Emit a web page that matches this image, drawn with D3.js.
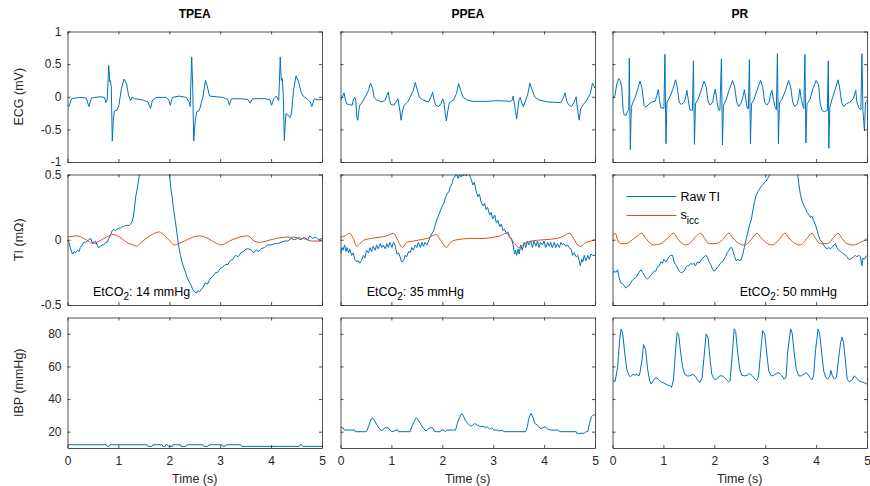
<!DOCTYPE html>
<html>
<head>
<meta charset="utf-8">
<script src="https://cdn.jsdelivr.net/npm/d3@7"></script>
<style>
  body { margin: 0; background: #fff; }
  svg { font-family: "Liberation Sans", Arial, sans-serif; }
</style>
</head>
<body>
<script>
// column titles, tick values, EtCO2 values
var columns = ["TPEA", "PPEA", "PR"];
var etco2 = [14, 35, 50];
var timeTicks = [0, 1, 2, 3, 4, 5];
var ecgTicks = [-1, -0.5, 0, 0.5, 1];
var tiTicks = [-0.5, 0, 0.5];
var ibpTicks = [20, 40, 60, 80];

// ECG (mV), [time s, value]
var tpeaEcg = [[0,-0.13],[0.03,-0.15],[0.08,-0.03],[0.24,-0.01],[0.37,-0.02],[0.42,-0.15],[0.47,-0.02],[0.63,0],[0.73,-0.01],[0.75,-0.09],[0.78,-0.05],[0.81,0.48],[0.83,0.23],[0.84,0.25],[0.86,0.15],[0.88,-0.68],[0.90,-0.36],[0.92,-0.22],[0.97,-0.21],[1.01,-0.13],[1.06,0.13],[1.11,0.27],[1.16,0.20],[1.20,0.02],[1.24,-0.06],[1.27,-0.01],[1.32,-0.03],[1.48,-0.05],[1.58,-0.08],[1.63,-0.18],[1.67,-0.05],[1.75,-0.01],[1.94,-0.01],[1.99,-0.05],[2.02,-0.13],[2.06,-0.01],[2.20,0.01],[2.33,-0.01],[2.39,-0.08],[2.41,-0.15],[2.44,0.61],[2.46,0.15],[2.48,-0.68],[2.51,-0.36],[2.54,-0.23],[2.59,-0.21],[2.66,0],[2.71,0.25],[2.75,0.15],[2.79,0.01],[2.92,0],[3.05,-0.01],[3.15,-0.04],[3.18,-0.13],[3.22,-0.03],[3.38,-0.03],[3.54,-0.04],[3.59,-0.10],[3.63,-0.03],[3.90,-0.03],[3.98,-0.05],[4.01,-0.13],[4.05,-0.03],[4.10,0.01],[4.15,-0.06],[4.18,0.61],[4.20,0.25],[4.22,0.28],[4.24,0],[4.26,-0.67],[4.29,-0.26],[4.33,-0.28],[4.37,-0.32],[4.40,-0.26],[4.44,0.10],[4.49,0.32],[4.54,0.23],[4.59,0.07],[4.63,0.01],[4.72,-0.04],[4.77,-0.08],[4.80,-0.15],[4.85,-0.03],[4.92,-0.05],[5.00,-0.04]];
var ppeaEcg = [[0,-0.05],[0.04,0],[0.07,0.06],[0.09,-0.03],[0.12,-0.11],[0.18,-0.12],[0.23,-0.13],[0.25,-0.05],[0.28,-0.01],[0.30,-0.05],[0.32,-0.31],[0.34,-0.36],[0.36,-0.21],[0.38,-0.13],[0.43,-0.08],[0.50,0.02],[0.55,0.10],[0.59,0.21],[0.63,0.13],[0.66,-0.01],[0.71,-0.05],[0.81,-0.08],[0.88,-0.05],[0.91,0.02],[0.94,0.07],[0.96,-0.04],[0.99,-0.12],[1.05,-0.13],[1.09,-0.08],[1.13,-0.03],[1.14,-0.08],[1.17,-0.23],[1.19,-0.36],[1.22,-0.21],[1.25,-0.13],[1.32,-0.08],[1.38,0.01],[1.43,0.10],[1.47,0.22],[1.51,0.10],[1.55,-0.01],[1.62,-0.05],[1.73,-0.08],[1.78,0],[1.81,0.07],[1.84,-0.05],[1.87,-0.13],[1.93,-0.15],[1.97,-0.11],[2.01,-0.03],[2.03,-0.08],[2.06,-0.26],[2.08,-0.37],[2.11,-0.21],[2.14,-0.09],[2.22,-0.05],[2.28,0.05],[2.32,0.20],[2.36,0.10],[2.41,-0.01],[2.49,-0.05],[2.59,-0.07],[2.88,-0.07],[3.08,-0.06],[3.34,-0.07],[3.38,-0.05],[3.39,0.01],[3.41,-0.08],[3.44,-0.23],[3.46,-0.34],[3.49,-0.16],[3.51,-0.03],[3.53,-0.01],[3.56,-0.09],[3.59,-0.15],[3.64,-0.05],[3.68,0.04],[3.72,0.21],[3.76,0.11],[3.82,-0.01],[3.90,-0.05],[4.07,-0.08],[4.33,-0.09],[4.38,-0.01],[4.41,0.06],[4.45,-0.08],[4.49,-0.13],[4.54,-0.15],[4.59,-0.08],[4.63,0],[4.64,-0.08],[4.67,-0.26],[4.69,-0.36],[4.72,-0.18],[4.76,-0.13],[4.84,-0.05],[4.91,0.05],[4.95,0.21],[5.00,0.13]];
var prEcg = [[0,-0.04],[0.05,0.02],[0.08,0.18],[0.12,0.28],[0.15,0.25],[0.18,0.15],[0.21,-0.21],[0.23,-0.28],[0.27,-0.28],[0.29,-0.23],[0.32,-0.21],[0.33,0.59],[0.35,-0.81],[0.37,-0.16],[0.41,-0.07],[0.44,-0.02],[0.49,0.10],[0.54,0.24],[0.58,0.13],[0.62,-0.13],[0.65,-0.16],[0.72,-0.11],[0.78,-0.08],[0.84,-0.07],[0.87,0.02],[0.90,0.11],[0.92,-0.03],[0.95,-0.17],[0.99,-0.17],[1.01,-0.18],[1.03,0.65],[1.05,-0.72],[1.07,-0.08],[1.11,-0.03],[1.18,0.10],[1.24,0.26],[1.27,0.15],[1.31,-0.08],[1.35,-0.12],[1.41,-0.08],[1.44,0],[1.46,0.10],[1.49,-0.05],[1.52,-0.20],[1.57,-0.21],[1.59,0.55],[1.61,-0.73],[1.63,-0.11],[1.68,-0.04],[1.73,0.07],[1.80,0.24],[1.84,0.15],[1.88,-0.08],[1.92,-0.13],[1.97,-0.08],[1.99,0.02],[2.02,0.12],[2.05,-0.05],[2.08,-0.20],[2.11,-0.21],[2.14,0.58],[2.16,-0.74],[2.18,-0.13],[2.23,-0.05],[2.29,0.10],[2.36,0.25],[2.40,0.15],[2.44,-0.08],[2.48,-0.15],[2.53,-0.09],[2.57,0.02],[2.59,0.11],[2.62,-0.04],[2.65,-0.18],[2.67,-0.18],[2.69,0.57],[2.71,-0.72],[2.73,-0.11],[2.78,-0.04],[2.84,0.10],[2.91,0.25],[2.95,0.15],[2.99,-0.08],[3.03,-0.13],[3.08,-0.08],[3.10,0.02],[3.13,0.10],[3.16,-0.04],[3.20,-0.17],[3.22,-0.20],[3.24,0.66],[3.26,-0.72],[3.28,-0.09],[3.33,-0.04],[3.40,0.10],[3.46,0.25],[3.50,0.15],[3.54,-0.08],[3.58,-0.15],[3.63,-0.11],[3.66,0],[3.68,0.12],[3.71,-0.04],[3.75,-0.17],[3.76,-0.18],[3.78,0.65],[3.80,-0.71],[3.82,-0.11],[3.88,-0.04],[3.94,0.13],[4.00,0.25],[4.05,0.18],[4.08,-0.11],[4.12,-0.21],[4.16,-0.23],[4.22,-0.21],[4.24,0.55],[4.25,-0.79],[4.27,-0.16],[4.31,-0.05],[4.37,0.10],[4.43,0.26],[4.46,0.15],[4.50,-0.08],[4.54,-0.15],[4.59,-0.11],[4.67,-0.08],[4.73,-0.03],[4.78,0.10],[4.80,-0.08],[4.84,-0.17],[4.88,-0.20],[4.90,0.66],[4.92,-0.21],[4.95,-0.52],[4.97,-0.08],[5.00,-0.06]];

// TI (mOhm): raw TI and s_icc
var tpeaTi = [[0,0],[0.03,-0.02],[0.06,-0.07],[0.10,-0.11],[0.13,-0.09],[0.16,-0.10],[0.20,-0.08],[0.23,-0.09],[0.25,-0.06],[0.29,-0.04],[0.32,-0.02],[0.35,-0.02],[0.39,-0.01],[0.42,0],[0.46,0.01],[0.48,-0.02],[0.52,-0.02],[0.55,-0.01],[0.58,-0.04],[0.61,-0.06],[0.65,-0.05],[0.68,-0.04],[0.71,-0.04],[0.75,-0.02],[0.78,-0.02],[0.81,0.01],[0.84,0.03],[0.88,0.07],[0.91,0.08],[0.94,0.07],[0.97,0.08],[1.01,0.09],[1.04,0.09],[1.07,0.10],[1.10,0.10],[1.14,0.11],[1.17,0.11],[1.21,0.11],[1.24,0.12],[1.27,0.14],[1.30,0.19],[1.32,0.26],[1.34,0.33],[1.37,0.39],[1.39,0.44],[1.42,0.52],[1.47,0.65],[1.94,0.65],[2.01,0.48],[2.03,0.39],[2.06,0.32],[2.08,0.24],[2.12,0.14],[2.15,0.05],[2.18,-0.04],[2.22,-0.12],[2.25,-0.17],[2.28,-0.21],[2.32,-0.25],[2.35,-0.29],[2.40,-0.33],[2.43,-0.35],[2.46,-0.38],[2.50,-0.40],[2.53,-0.41],[2.56,-0.39],[2.59,-0.40],[2.63,-0.38],[2.67,-0.36],[2.71,-0.33],[2.75,-0.34],[2.80,-0.30],[2.86,-0.28],[2.91,-0.25],[2.95,-0.25],[3.00,-0.22],[3.05,-0.21],[3.10,-0.19],[3.15,-0.19],[3.20,-0.16],[3.25,-0.15],[3.30,-0.12],[3.35,-0.13],[3.41,-0.10],[3.46,-0.09],[3.51,-0.07],[3.56,-0.07],[3.61,-0.08],[3.65,-0.10],[3.71,-0.08],[3.76,-0.09],[3.80,-0.07],[3.87,-0.06],[3.93,-0.04],[4.00,-0.04],[4.07,-0.03],[4.13,-0.03],[4.20,-0.02],[4.26,-0.01],[4.33,-0.01],[4.39,0.01],[4.46,0],[4.52,0.01],[4.59,0],[4.65,0.02],[4.72,0],[4.76,0.03],[4.82,0.01],[4.88,0.02],[4.93,0],[5.00,0.01]];
var tpeaSicc = [[0,0.02],[0.18,0.03],[0.27,0.02],[0.41,-0.01],[0.50,-0.03],[0.63,-0.01],[0.76,0.02],[0.90,0.04],[1.03,0.02],[1.16,-0.02],[1.29,-0.04],[1.35,-0.05],[1.45,-0.02],[1.58,0.02],[1.71,0.05],[1.80,0.06],[1.91,0.03],[2.01,-0.01],[2.10,-0.04],[2.18,-0.03],[2.30,-0.01],[2.46,0.02],[2.59,0.03],[2.76,0.01],[2.89,-0.02],[3.02,-0.04],[3.18,-0.01],[3.38,0.02],[3.54,0.03],[3.67,-0.01],[3.77,-0.02],[3.90,-0.01],[4.10,0.01],[4.29,0.02],[4.42,0.02],[4.62,0.01],[4.82,-0.01],[5.00,-0.01]];
var ppeaTi = [[0,-0.11],[0.03,-0.06],[0.05,-0.08],[0.08,-0.04],[0.11,-0.09],[0.13,-0.06],[0.16,-0.10],[0.18,-0.07],[0.22,-0.12],[0.25,-0.10],[0.28,-0.15],[0.32,-0.17],[0.35,-0.16],[0.38,-0.18],[0.41,-0.16],[0.45,-0.12],[0.48,-0.14],[0.51,-0.08],[0.55,-0.10],[0.58,-0.06],[0.61,-0.09],[0.64,-0.05],[0.68,-0.08],[0.71,-0.04],[0.74,-0.07],[0.78,-0.03],[0.81,-0.06],[0.84,-0.04],[0.88,-0.07],[0.91,-0.03],[0.94,-0.06],[0.97,-0.02],[1.01,-0.06],[1.04,-0.02],[1.07,-0.04],[1.11,-0.11],[1.14,-0.10],[1.17,-0.13],[1.20,-0.17],[1.24,-0.16],[1.27,-0.12],[1.30,-0.13],[1.34,-0.09],[1.37,-0.10],[1.40,-0.06],[1.43,-0.08],[1.47,-0.04],[1.50,-0.06],[1.53,-0.02],[1.57,-0.06],[1.60,-0.02],[1.63,-0.05],[1.66,-0.02],[1.70,-0.04],[1.73,-0.01],[1.76,0.02],[1.80,0.05],[1.83,0.07],[1.86,0.11],[1.89,0.15],[1.93,0.19],[1.96,0.22],[1.99,0.25],[2.03,0.28],[2.06,0.32],[2.09,0.35],[2.13,0.37],[2.16,0.41],[2.19,0.43],[2.22,0.47],[2.26,0.49],[2.28,0.51],[2.31,0.47],[2.34,0.50],[2.37,0.48],[2.40,0.51],[2.42,0.49],[2.45,0.52],[2.47,0.49],[2.50,0.52],[2.53,0.50],[2.57,0.46],[2.60,0.42],[2.63,0.44],[2.66,0.38],[2.70,0.33],[2.73,0.35],[2.76,0.29],[2.80,0.26],[2.83,0.28],[2.86,0.23],[2.89,0.25],[2.93,0.19],[2.96,0.21],[2.99,0.16],[3.03,0.19],[3.06,0.13],[3.09,0.15],[3.13,0.10],[3.16,0.12],[3.19,0.07],[3.22,0.08],[3.26,0.05],[3.29,0.06],[3.32,0.02],[3.36,0.01],[3.39,-0.04],[3.42,-0.11],[3.44,-0.08],[3.46,-0.12],[3.49,-0.07],[3.51,-0.11],[3.54,-0.04],[3.57,-0.08],[3.61,-0.02],[3.64,-0.06],[3.67,-0.01],[3.70,-0.04],[3.74,-0.01],[3.77,-0.06],[3.80,-0.01],[3.84,-0.05],[3.87,-0.01],[3.90,-0.06],[3.93,-0.02],[3.97,-0.04],[4.00,-0.01],[4.03,-0.06],[4.07,-0.02],[4.10,-0.05],[4.13,-0.02],[4.16,-0.06],[4.20,-0.02],[4.23,-0.06],[4.26,-0.03],[4.30,-0.06],[4.33,-0.02],[4.36,-0.04],[4.39,-0.03],[4.43,-0.05],[4.46,-0.04],[4.49,-0.06],[4.53,-0.07],[4.56,-0.12],[4.59,-0.10],[4.63,-0.13],[4.66,-0.12],[4.69,-0.16],[4.71,-0.20],[4.74,-0.15],[4.76,-0.17],[4.79,-0.12],[4.82,-0.16],[4.86,-0.12],[4.89,-0.15],[4.92,-0.11],[4.95,-0.12],[5.00,-0.12]];
var ppeaSicc = [[0,0.02],[0.09,0.03],[0.18,0.05],[0.25,0.01],[0.32,-0.05],[0.38,-0.03],[0.48,0],[0.61,0.01],[0.78,0.02],[0.91,0.03],[1.04,0.05],[1.11,0.01],[1.17,-0.04],[1.22,-0.06],[1.30,-0.02],[1.43,-0.01],[1.57,0],[1.70,0.01],[1.80,0.03],[1.88,0.04],[1.96,0],[2.03,-0.04],[2.08,-0.06],[2.16,-0.02],[2.29,0],[2.55,0.01],[2.82,0.01],[3.01,0.02],[3.14,0.03],[3.26,0.05],[3.34,0.01],[3.44,-0.04],[3.51,-0.06],[3.61,-0.03],[3.74,-0.01],[4.00,0],[4.26,0.01],[4.39,0.03],[4.49,0.05],[4.58,0.01],[4.66,-0.04],[4.72,-0.05],[4.82,-0.02],[4.92,-0.01],[5.00,0]];
var prTi = [[0,-0.26],[0.03,-0.24],[0.07,-0.25],[0.10,-0.23],[0.13,-0.29],[0.16,-0.33],[0.20,-0.34],[0.23,-0.35],[0.26,-0.37],[0.29,-0.36],[0.33,-0.35],[0.36,-0.33],[0.39,-0.31],[0.42,-0.30],[0.46,-0.29],[0.49,-0.27],[0.52,-0.25],[0.56,-0.23],[0.59,-0.25],[0.62,-0.27],[0.65,-0.29],[0.69,-0.30],[0.72,-0.29],[0.75,-0.27],[0.78,-0.26],[0.82,-0.24],[0.85,-0.24],[0.88,-0.21],[0.92,-0.20],[0.95,-0.17],[0.98,-0.18],[1.01,-0.15],[1.05,-0.17],[1.08,-0.15],[1.11,-0.13],[1.14,-0.12],[1.18,-0.12],[1.21,-0.17],[1.24,-0.19],[1.27,-0.21],[1.31,-0.24],[1.34,-0.25],[1.37,-0.25],[1.41,-0.24],[1.44,-0.21],[1.47,-0.20],[1.50,-0.20],[1.54,-0.18],[1.57,-0.19],[1.60,-0.18],[1.63,-0.20],[1.67,-0.17],[1.70,-0.18],[1.73,-0.16],[1.76,-0.15],[1.80,-0.13],[1.83,-0.12],[1.86,-0.13],[1.90,-0.17],[1.93,-0.19],[1.96,-0.22],[1.99,-0.24],[2.03,-0.23],[2.06,-0.21],[2.09,-0.20],[2.12,-0.18],[2.16,-0.17],[2.19,-0.15],[2.22,-0.13],[2.25,-0.10],[2.29,-0.08],[2.32,-0.06],[2.34,-0.06],[2.37,-0.09],[2.40,-0.13],[2.43,-0.16],[2.46,-0.15],[2.50,-0.16],[2.53,-0.15],[2.56,-0.11],[2.59,-0.06],[2.63,0.01],[2.66,0.06],[2.69,0.11],[2.73,0.16],[2.76,0.23],[2.79,0.29],[2.82,0.34],[2.86,0.37],[2.89,0.39],[2.92,0.41],[2.95,0.42],[2.99,0.44],[3.02,0.45],[3.05,0.47],[3.08,0.49],[3.12,0.52],[3.15,0.58],[3.24,0.65],[3.56,0.65],[3.63,0.58],[3.64,0.49],[3.66,0.43],[3.69,0.35],[3.73,0.29],[3.76,0.26],[3.79,0.24],[3.82,0.21],[3.86,0.19],[3.89,0.17],[3.92,0.18],[3.95,0.15],[3.99,0.11],[4.02,0.07],[4.05,0.03],[4.08,0],[4.12,-0.02],[4.15,-0.04],[4.18,-0.06],[4.22,-0.07],[4.25,-0.06],[4.28,-0.07],[4.31,-0.06],[4.35,-0.04],[4.38,-0.03],[4.41,-0.06],[4.44,-0.08],[4.48,-0.09],[4.51,-0.10],[4.54,-0.11],[4.58,-0.12],[4.61,-0.13],[4.64,-0.15],[4.67,-0.15],[4.71,-0.14],[4.74,-0.13],[4.77,-0.12],[4.80,-0.13],[4.84,-0.12],[4.87,-0.13],[4.90,-0.20],[4.92,-0.14],[4.95,-0.15],[4.98,-0.13],[5.00,-0.12]];
var prSicc = [[0,0.03],[0.05,0.05],[0.10,0],[0.16,-0.03],[0.26,-0.03],[0.39,0],[0.49,0.03],[0.57,0.05],[0.64,0.02],[0.72,-0.02],[0.82,-0.04],[0.95,-0.03],[1.08,0.01],[1.20,0.05],[1.26,0.02],[1.34,-0.02],[1.44,-0.04],[1.54,-0.02],[1.65,0.03],[1.73,0.05],[1.81,0.01],[1.90,-0.03],[2.03,-0.03],[2.16,0],[2.29,0.05],[2.35,0.02],[2.45,-0.02],[2.58,-0.04],[2.68,-0.02],[2.76,0.02],[2.84,0.05],[2.91,0.02],[3.01,-0.02],[3.14,-0.04],[3.27,0],[3.39,0.05],[3.45,0.02],[3.55,-0.02],[3.69,-0.04],[3.82,0.01],[3.92,0.05],[3.99,0.01],[4.08,-0.03],[4.22,-0.03],[4.35,0.02],[4.43,0.05],[4.51,0.01],[4.61,-0.03],[4.74,-0.04],[4.87,-0.02],[4.97,0],[5.00,0.01]];

// IBP (mmHg)
var tpeaIbp = [[0,12],[0.76,12],[0.78,11],[0.82,11],[0.84,12],[1.56,12],[1.58,11],[1.66,11],[1.68,12],[1.86,12],[1.87,11],[1.92,11],[1.93,12],[1.96,12],[1.98,11],[2.06,11],[2.07,12],[2.22,12],[2.23,11],[2.33,11],[2.35,12],[2.66,12],[2.68,11],[2.76,11],[2.78,12],[3.03,12],[3.05,11],[3.10,11],[3.12,12],[3.40,12],[3.42,11],[4.55,11],[4.57,12],[4.60,12],[4.62,11],[5.00,11]];
var ppeaIbp = [[0,22.4],[0.05,22.4],[0.08,21.0],[0.28,21.0],[0.29,20.0],[0.51,20.0],[0.55,23.0],[0.58,26.0],[0.62,28.5],[0.66,27.4],[0.71,24.4],[0.76,22.0],[0.81,20.4],[0.84,21.6],[0.88,22.4],[0.94,22.4],[0.97,21.0],[1.01,20.0],[1.05,20.4],[1.09,21.0],[1.13,21.0],[1.14,20.0],[1.37,20.0],[1.40,23.0],[1.45,26.4],[1.49,28.5],[1.53,27.0],[1.58,24.4],[1.63,22.0],[1.68,20.4],[1.72,21.6],[1.76,22.4],[1.81,22.4],[1.84,20.4],[1.88,20.0],[1.96,20.0],[1.98,21.0],[2.03,21.0],[2.06,20.0],[2.09,21.0],[2.26,21.0],[2.29,24.4],[2.33,28.1],[2.38,31.1],[2.41,30.1],[2.45,27.0],[2.50,25.0],[2.55,23.6],[2.59,23.6],[2.63,25.0],[2.67,24.4],[2.72,23.6],[2.76,23.0],[2.80,23.4],[2.85,22.4],[2.88,23.0],[2.93,21.6],[2.97,22.4],[2.99,22.0],[3.01,21.0],[3.08,21.0],[3.11,20.4],[3.18,21.0],[3.20,20.0],[3.64,20.0],[3.67,23.0],[3.70,28.1],[3.74,31.1],[3.77,29.7],[3.82,25.0],[3.87,24.0],[3.93,22.0],[3.98,22.4],[4.02,23.0],[4.07,21.6],[4.13,21.0],[4.28,21.0],[4.30,20.0],[4.63,20.0],[4.64,19.0],[4.79,19.0],[4.82,20.0],[4.86,20.0],[4.89,25.0],[4.93,29.1],[4.97,30.5],[5.00,30.1]];
var prIbp = [[0,51.8],[0.05,50.6],[0.10,59.3],[0.14,76.4],[0.17,83.0],[0.20,80.4],[0.24,68.3],[0.28,58.3],[0.33,54.2],[0.36,53.8],[0.40,55.2],[0.44,54.6],[0.48,55.2],[0.52,54.2],[0.54,56.2],[0.58,64.3],[0.61,73.4],[0.65,70.3],[0.69,58.3],[0.73,51.2],[0.76,49.2],[0.80,51.2],[0.85,53.2],[0.90,52.2],[0.95,50.6],[1.01,49.8],[1.08,48.6],[1.13,48.2],[1.16,47.0],[1.20,52.2],[1.23,66.3],[1.27,80.8],[1.30,79.4],[1.34,68.3],[1.38,59.3],[1.42,55.2],[1.47,54.2],[1.52,54.2],[1.57,55.2],[1.60,54.8],[1.64,53.2],[1.68,51.2],[1.72,50.2],[1.76,53.2],[1.80,66.3],[1.84,80.0],[1.88,77.4],[1.91,66.3],[1.95,55.2],[1.99,52.6],[2.03,51.8],[2.07,53.2],[2.11,54.2],[2.16,54.2],[2.20,53.2],[2.24,51.8],[2.28,50.6],[2.31,51.2],[2.35,66.3],[2.39,83.0],[2.42,81.4],[2.46,68.3],[2.50,58.3],[2.54,54.6],[2.59,54.2],[2.65,54.6],[2.69,55.8],[2.75,54.2],[2.79,52.6],[2.83,51.2],[2.87,54.2],[2.91,68.3],[2.95,82.0],[2.99,80.0],[3.03,68.3],[3.07,57.2],[3.12,54.2],[3.17,54.6],[3.22,55.8],[3.27,56.2],[3.33,54.2],[3.37,52.2],[3.41,53.2],[3.44,68.3],[3.50,83.0],[3.53,80.4],[3.57,68.3],[3.61,58.3],[3.66,54.2],[3.71,54.2],[3.76,55.2],[3.80,56.2],[3.84,55.2],[3.88,53.2],[3.92,51.8],[3.95,54.2],[3.99,70.3],[4.04,83.0],[4.07,80.0],[4.11,68.3],[4.15,57.2],[4.19,53.2],[4.23,52.2],[4.27,54.2],[4.29,57.6],[4.32,54.2],[4.36,52.2],[4.40,53.2],[4.44,64.3],[4.48,74.4],[4.51,78.0],[4.54,74.4],[4.58,62.3],[4.61,52.2],[4.65,50.6],[4.71,51.8],[4.75,54.2],[4.79,53.2],[4.84,51.2],[4.88,50.6],[4.93,50.2],[5.00,49.2]];

var rows = [
  { label: "ECG (mV)", domain: [-1, 1], ticks: ecgTicks, raw: [tpeaEcg, ppeaEcg, prEcg], sicc: null },
  { label: "TI (m\u03A9)", domain: [-0.5, 0.5], ticks: tiTicks, raw: [tpeaTi, ppeaTi, prTi], sicc: [tpeaSicc, ppeaSicc, prSicc] },
  { label: "IBP (mmHg)", domain: [10, 90], ticks: ibpTicks, raw: [tpeaIbp, ppeaIbp, prIbp], sicc: null }
];

var blue = "#0072BD", orange = "#D95319", ink = "#262626";
var lefts = [67.5, 340.5, 612.5], pw = 254.5;
var tops = [31.5, 174.5, 317.5], ph = 130.5;

var svg = d3.select("body").append("svg").attr("width", 870).attr("height", 486);

var x = d3.scaleLinear().domain([0, 5]).range([0, pw]);

function styleAxis(g) {
  g.selectAll(".domain").attr("stroke", ink).attr("stroke-width", 0.8);
  g.selectAll(".tick line").attr("stroke", ink).attr("stroke-width", 0.8);
  g.selectAll(".tick text").attr("fill", ink).attr("font-size", 12);
  g.attr("font-family", null).attr("font-size", null);
}

rows.forEach(function (row, r) {
  var y = d3.scaleLinear().domain(row.domain).range([ph, 0]);
  var line = d3.line()
    .x(function (d) { return x(d[0]); })
    .y(function (d) { return y(d[1]); });

  columns.forEach(function (col, c) {
    var g = svg.append("g").attr("transform", "translate(" + lefts[c] + "," + tops[r] + ")");
    var clipId = "clip" + r + c;
    g.append("clipPath").attr("id", clipId)
      .append("rect").attr("width", pw).attr("height", ph);

    var plot = g.append("g").attr("clip-path", "url(#" + clipId + ")");
    plot.append("path").datum(row.raw[c])
      .attr("d", line).attr("fill", "none")
      .attr("stroke", blue).attr("stroke-width", 1).attr("stroke-linejoin", "round");
    if (row.sicc) {
      plot.append("path").datum(row.sicc[c])
        .attr("d", line.curve(d3.curveMonotoneX)).attr("fill", "none")
        .attr("stroke", orange).attr("stroke-width", 1);
      line.curve(d3.curveLinear);
    }

    //axes, ticks inward on all four sides
    var noLabel = function () { return ""; };
    g.append("g").attr("transform", "translate(0," + ph + ")")
      .call(d3.axisBottom(x).tickValues(timeTicks).tickSizeInner(-3).tickSizeOuter(0).tickPadding(8.5)
        .tickFormat(r == 2 ? function (d) { return String(d); } : noLabel))
      .call(styleAxis);
    g.append("g")
      .call(d3.axisTop(x).tickValues(timeTicks).tickSizeInner(-3).tickSizeOuter(0).tickFormat(noLabel))
      .call(styleAxis);
    g.append("g")
      .call(d3.axisLeft(y).tickValues(row.ticks).tickSizeInner(-3).tickSizeOuter(0).tickPadding(6)
        .tickFormat(c == 0 ? function (d) { return String(d); } : noLabel))
      .call(styleAxis);
    g.append("g").attr("transform", "translate(" + pw + ",0)")
      .call(d3.axisRight(y).tickValues(row.ticks).tickSizeInner(-3).tickSizeOuter(0).tickFormat(noLabel))
      .call(styleAxis);

    if (r == 0) {
      g.append("text").attr("x", pw / 2).attr("y", -14)
        .attr("text-anchor", "middle").attr("font-weight", "bold")
        .attr("font-size", 12).attr("fill", "#000").text(col);
    }
    if (r == 2) {
      g.append("text").attr("x", pw / 2).attr("y", ph + 34.5)
        .attr("text-anchor", "middle").attr("font-size", 12.5).attr("fill", ink).text("Time (s)");
    }
    if (r == 1) {
      var tx = [0.5, 0.515, 2.5][c];
      var t = g.append("text").attr("x", x(tx)).attr("y", ph - 9)
        .attr("font-size", 12.5).attr("fill", "#000");
      t.append("tspan").text("EtCO");
      t.append("tspan").attr("dy", 4).attr("font-size", 10).text("2");
      t.append("tspan").attr("dy", -4).text(": " + etco2[c] + " mmHg");

      if (c == 2) {
        // legend
        var lg = g.append("g").attr("transform", "translate(14,22)");
        lg.append("line").attr("x1", 0).attr("x2", 50).attr("y1", 0).attr("y2", 0)
          .attr("stroke", blue).attr("stroke-width", 1);
        lg.append("text").attr("x", 54).attr("y", 4.5).attr("font-size", 12.5).attr("fill", "#000").text("Raw TI");
        lg.append("line").attr("x1", 0).attr("x2", 50).attr("y1", 19).attr("y2", 19)
          .attr("stroke", orange).attr("stroke-width", 1);
        var st = lg.append("text").attr("x", 54).attr("y", 22).attr("font-size", 12.5).attr("fill", "#000");
        st.append("tspan").text("s");
        st.append("tspan").attr("dy", 5).attr("font-size", 10).text("icc");
      }
    }
  });

  svg.append("text")
    .attr("transform", "translate(23," + (tops[r] + ph / 2) + ") rotate(-90)")
    .attr("text-anchor", "middle").attr("font-size", 12.5).attr("fill", ink)
    .text(row.label);
});
</script>
</body>
</html>
